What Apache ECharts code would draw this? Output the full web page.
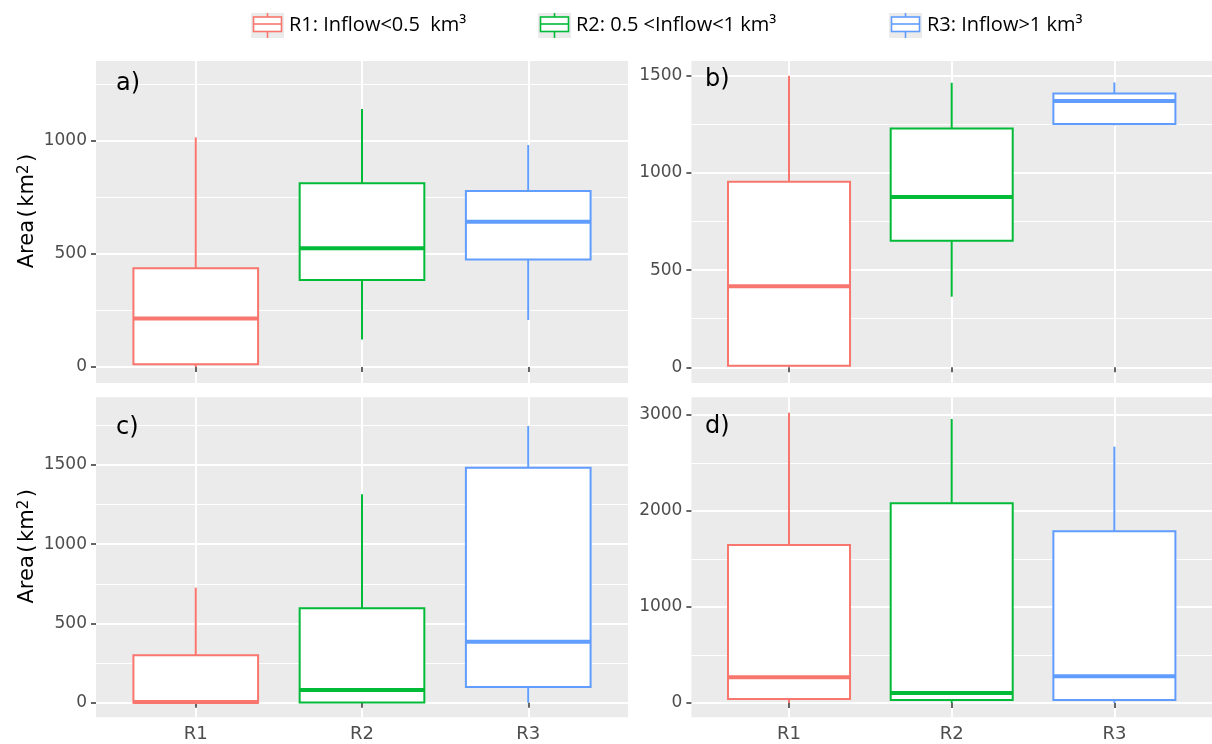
<!DOCTYPE html>
<html><head><meta charset="utf-8">
<script src="https://cdn.jsdelivr.net/npm/echarts@6/dist/echarts.min.js"></script>
<style>html,body{margin:0;padding:0;background:#fff}#c{width:1212px;height:744px}</style>
</head><body><div id="c"></div><script>
// ---- data ----
const categories = ['R1', 'R2', 'R3'];
const seriesNames = ['R1: Inflow<0.5  km³', 'R2: 0.5 <Inflow<1 km³', 'R3: Inflow>1 km³'];
const panelLabels = ['a)', 'b)', 'c)', 'd)'];
// each row: [lower whisker, Q1, median, Q3, upper whisker] for R1, R2, R3
const panelA = [[0, 12, 214, 437, 1016], [122, 385, 525, 813, 1142], [208, 476, 643, 779, 982]];
const panelB = [[0, 8, 417, 955, 1500], [363, 651, 876, 1229, 1464], [1245, 1252, 1370, 1409, 1466]];
const panelC = [[0, 0, 5, 299, 726], [0, 2, 80, 596, 1315], [0, 99, 385, 1483, 1746]];
const panelD = [[0, 42, 268, 1646, 3025], [0, 31, 104, 2081, 2959], [0, 31, 278, 1789, 2671]];
const yTicksA = [0, 500, 1000];
const yTicksB = [0, 500, 1000, 1500];
const yTicksC = [0, 500, 1000, 1500];
const yTicksD = [0, 1000, 2000, 3000];
const yMinorA = [250, 750, 1250];
const yMinorB = [250, 750, 1250];
const yMinorC = [250, 750, 1250, 1750];
const yMinorD = [500, 1500, 2500];
const yTitle = 'Area{sp| }({sp| }km{sup|2}{sp| })';

// ---- styling / layout ----
const colors = ['#F8766D', '#00BA38', '#619CFF'];
const panels = [panelA, panelB, panelC, panelD];
const yTicks = [yTicksA, yTicksB, yTicksC, yTicksD];
const yMinor = [yMinorA, yMinorB, yMinorC, yMinorD];
const yRange = [[-71, 1354], [-81, 1576], [-92, 1927], [-149, 3185]];
const grids = [
  {left: 96, top: 61, width: 532, height: 322},
  {left: 691.4, top: 61, width: 531.2, height: 322},
  {left: 96, top: 397.3, width: 532, height: 320},
  {left: 691.4, top: 397.3, width: 531.2, height: 320}
];
const labelPos = [[116, 72], [705, 68], [116, 416], [705, 415]];
const legendLeft = [251, 538, 889];
const tickFont = 'DejaVu Sans';

function iconFor(c) {
  const svg = "<svg xmlns='http://www.w3.org/2000/svg' width='33' height='25'>" +
    "<rect x='0' y='0' width='33' height='25' fill='#EBEBEB'/>" +
    "<line x1='16.5' y1='0' x2='16.5' y2='25' stroke='" + c + "' stroke-width='1.6'/>" +
    "<rect x='2.5' y='4' width='28' height='14.5' fill='#ffffff' stroke='" + c + "' stroke-width='1.6'/>" +
    "<line x1='2.5' y1='11' x2='30.5' y2='11' stroke='" + c + "' stroke-width='1.6'/></svg>";
  return 'image://data:image/svg+xml;charset=utf-8,' + encodeURIComponent(svg);
}

function renderBox(params, api) {
  const x = api.value(0);
  const lo = api.coord([x, api.value(1)]);
  const q1 = api.coord([x, api.value(2)]);
  const med = api.coord([x, api.value(3)]);
  const q3 = api.coord([x, api.value(4)]);
  const hi = api.coord([x, api.value(5)]);
  const w = api.size([0.75, 0])[0];
  const color = api.visual('color');
  const cx = lo[0];
  return {
    type: 'group',
    children: [
      {type: 'line', shape: {x1: cx, y1: hi[1], x2: cx, y2: q3[1]}, style: {stroke: color, lineWidth: 2}},
      {type: 'line', shape: {x1: cx, y1: q1[1], x2: cx, y2: lo[1]}, style: {stroke: color, lineWidth: 2}},
      {type: 'rect', shape: {x: cx - w / 2, y: q3[1], width: w, height: q1[1] - q3[1]},
        style: {fill: '#ffffff', stroke: color, lineWidth: 2}},
      {type: 'line', shape: {x1: cx - w / 2, y1: med[1], x2: cx + w / 2, y2: med[1]},
        style: {stroke: color, lineWidth: 4}}
    ]
  };
}

const xAxes = [], yAxes = [], yAxesMinor = [], series = [];
for (let p = 0; p < 4; p++) {
  xAxes.push({
    type: 'value', gridIndex: p, min: 0.4, max: 3.6,
    axisLine: {show: false},
    axisTick: {show: true, customValues: [1, 2, 3], length: 5, lineStyle: {color: '#333333', width: 1.5}},
    axisLabel: {show: p >= 2, customValues: [1, 2, 3], formatter: v => categories[Math.round(v) - 1],
      color: '#4D4D4D', fontSize: 18, fontFamily: tickFont, margin: 8},
    splitLine: {show: true, lineStyle: {color: '#ffffff', width: 2}}
  });
  const ya = {
    type: 'value', gridIndex: p, min: yRange[p][0], max: yRange[p][1],
    axisLine: {show: false},
    axisTick: {show: true, customValues: yTicks[p], length: 5, lineStyle: {color: '#333333', width: 1.5}},
    axisLabel: {customValues: yTicks[p], formatter: v => String(v), color: '#4D4D4D', fontSize: 17,
      fontFamily: tickFont, margin: 9},
    splitLine: {show: true, lineStyle: {color: '#ffffff', width: 2}}
  };
  if (p % 2 === 0) {
    ya.name = yTitle;
    ya.nameLocation = 'middle';
    ya.nameGap = 58;
    ya.nameRotate = 90;
    ya.nameTextStyle = {fontFamily: tickFont, fontSize: 21, color: '#000000', padding: [0, 0, 0, 22],
      rich: {
        sup: {fontSize: 15, fontFamily: tickFont, color: '#000000', verticalAlign: 'top'},
        sp: {fontSize: 8, fontFamily: tickFont}
      }};
  }
  yAxes.push(ya);
  yAxesMinor.push({
    type: 'value', gridIndex: p, min: yRange[p][0], max: yRange[p][1], position: 'left',
    axisLine: {show: false},
    axisTick: {show: false, customValues: yMinor[p]},
    axisLabel: {show: false},
    splitLine: {show: true, lineStyle: {color: '#ffffff', width: 1}}
  });
  for (let c = 0; c < 3; c++) {
    series.push({
      type: 'custom', name: seriesNames[c], xAxisIndex: p, yAxisIndex: p,
      itemStyle: {color: colors[c]},
      renderItem: renderBox,
      encode: {x: 0, y: [1, 2, 3, 4, 5]},
      data: [[c + 1].concat(panels[p][c])],
      z: 3
    });
  }
}

const chart = echarts.init(document.getElementById('c'), null, {renderer: 'canvas'});
chart.setOption({
  animation: false,
  backgroundColor: '#ffffff',
  grid: grids.map(g => Object.assign({show: true, backgroundColor: '#EBEBEB', borderWidth: 0}, g)),
  title: panelLabels.map((t, i) => ({text: t, left: labelPos[i][0], top: labelPos[i][1], padding: 0,
    textStyle: {fontFamily: tickFont, fontSize: 24, fontWeight: 'normal', color: '#000000'}})),
  legend: seriesNames.map((n, i) => ({
    data: [{name: n, icon: iconFor(colors[i])}],
    left: legendLeft[i], top: 13, padding: 0, itemWidth: 33, itemHeight: 25, selectedMode: false,
    textStyle: {fontFamily: 'Open Sans', fontSize: 20, color: '#000000'}
  })),
  xAxis: xAxes,
  yAxis: yAxes.concat(yAxesMinor),
  series: series
});
</script></body></html>
